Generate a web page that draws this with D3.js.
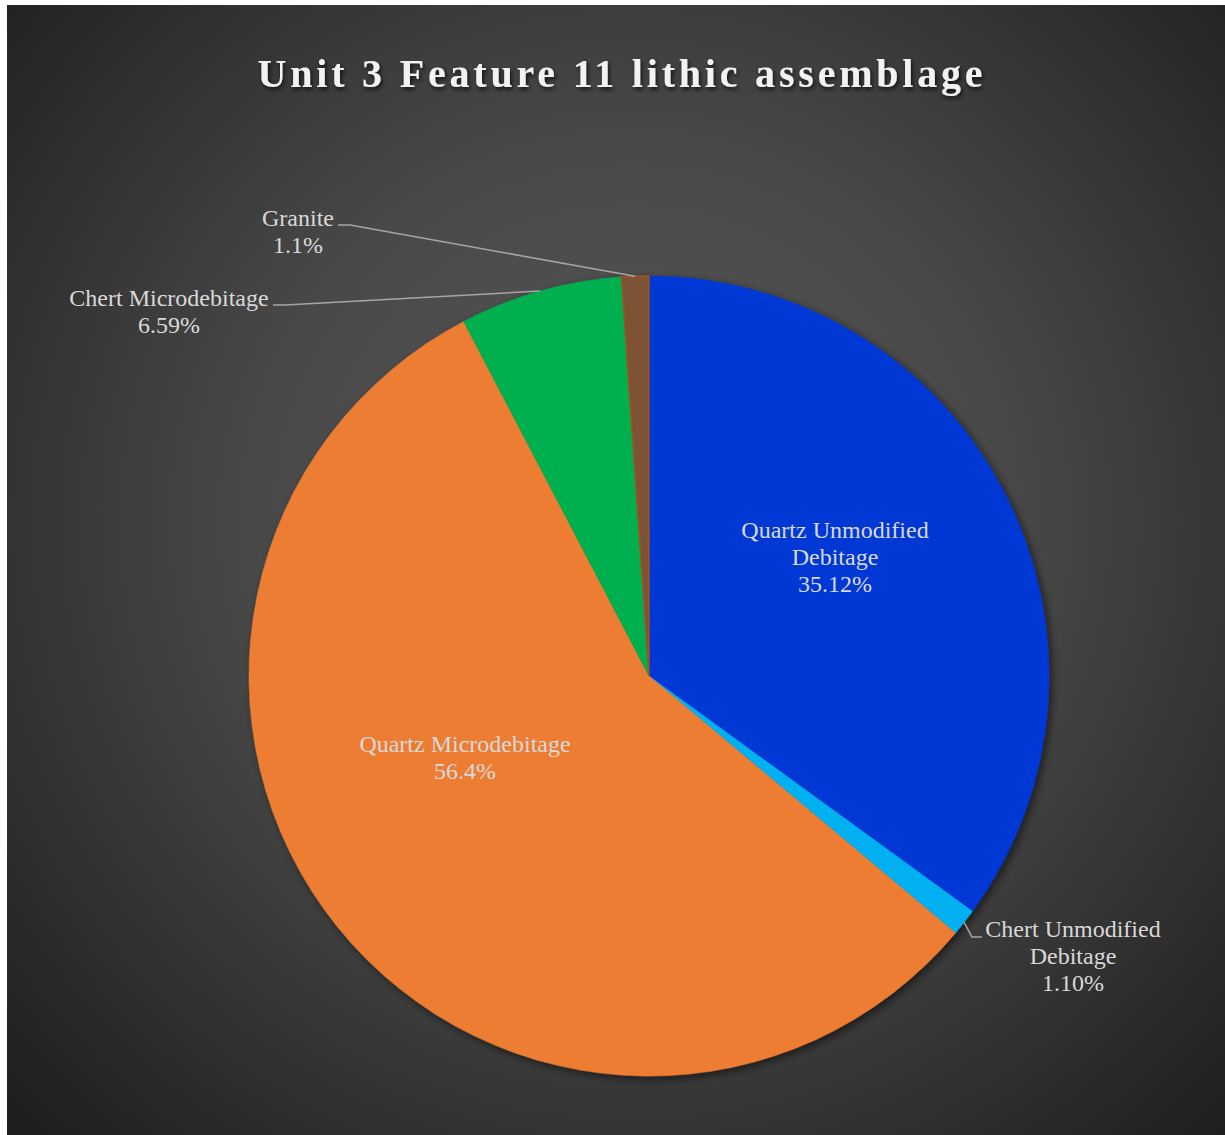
<!DOCTYPE html>
<html>
<head>
<meta charset="utf-8">
<script src="https://cdn.jsdelivr.net/npm/d3@7"></script>
<style>
  html, body { margin: 0; padding: 0; background: #ffffff; }
  svg { display: block; }
</style>
</head>
<body>
<div id="chart"></div>
<script>
// Lithic categories and their share of the assemblage (percent)
const categories = [
  "Quartz Unmodified Debitage",
  "Chert Unmodified Debitage",
  "Quartz Microdebitage",
  "Chert Microdebitage",
  "Granite"
];
const values = [35.12, 1.10, 56.4, 6.59, 1.1];
const decimals = [2, 2, 1, 2, 1];

// Label lines as shown on the chart (value line appended below)
const labelLines = [
  ["Quartz Unmodified", "Debitage"],
  ["Chert Unmodified", "Debitage"],
  ["Quartz Microdebitage"],
  ["Chert Microdebitage"],
  ["Granite"]
];
const colors = ["#0039d6", "#00b0f0", "#ed7d31", "#00b050", "#7e5236"];
const strokes = [null, null, null, null, "#a0521e"];

const W = 1225, H = 1135;
const frame = { x: 7, y: 5 };
const cx = 649, cy = 676, R = 400;
const lineH = 27;
const serif = "'Liberation Serif', 'Times New Roman', Times, serif";

// Label placement: inside labels use an offset from centre; outside labels use
// a leader line from the slice edge through an elbow to the text block.
const labelLayout = [
  { inside: true, dx: 186, dy: -119 },
  { inside: false, elbow: [972, 937], end: [982, 937], tx: 1073, ty: 929 },
  { inside: true, dx: -184, dy: 81 },
  { inside: false, elbow: [285, 305], end: [273, 305], tx: 169, ty: 298 },
  { inside: false, elbow: [350, 225], end: [338, 225], tx: 298, ty: 218 }
];

const svg = d3.select("#chart").append("svg")
  .attr("width", W).attr("height", H);

const defs = svg.append("defs");
const bg = defs.append("radialGradient")
  .attr("id", "bg").attr("gradientUnits", "userSpaceOnUse")
  .attr("cx", 630).attr("cy", 520).attr("r", 860);
bg.append("stop").attr("offset", "0%").attr("stop-color", "#595959");
bg.append("stop").attr("offset", "45%").attr("stop-color", "#484848");
bg.append("stop").attr("offset", "100%").attr("stop-color", "#1e1e1e");

const shadow = defs.append("filter").attr("id", "pieShadow")
  .attr("x", "-10%").attr("y", "-10%").attr("width", "120%").attr("height", "120%");
shadow.append("feDropShadow").attr("dx", 3).attr("dy", 3).attr("stdDeviation", 4)
  .attr("flood-color", "#000").attr("flood-opacity", 0.55);

const tshadow = defs.append("filter").attr("id", "titleShadow")
  .attr("x", "-5%").attr("y", "-30%").attr("width", "110%").attr("height", "160%");
tshadow.append("feDropShadow").attr("dx", 1.5).attr("dy", 2.5).attr("stdDeviation", 2)
  .attr("flood-color", "#000").attr("flood-opacity", 0.75);

svg.append("rect")
  .attr("x", frame.x).attr("y", frame.y)
  .attr("width", W - frame.x).attr("height", H - frame.y)
  .attr("fill", "url(#bg)");

// Title
svg.append("text")
  .attr("x", 622).attr("y", 87)
  .attr("text-anchor", "middle")
  .attr("font-family", serif)
  .attr("font-weight", "bold")
  .attr("font-size", 40)
  .attr("letter-spacing", 3.8)
  .attr("fill", "#f2f2f2")
  .attr("filter", "url(#titleShadow)")
  .text("Unit 3 Feature 11 lithic assemblage");

// Pie
const data = categories.map((c, i) => ({ name: c, value: values[i], i }));
const pie = d3.pie().value(d => d.value).sort(null);
const arcs = pie(data);
const arc = d3.arc().innerRadius(0).outerRadius(R);

const g = svg.append("g").attr("transform", `translate(${cx},${cy})`);
g.append("g").attr("filter", "url(#pieShadow)")
  .selectAll("path").data(arcs).join("path")
  .attr("d", arc)
  .attr("fill", d => colors[d.data.i])
  .attr("stroke", d => strokes[d.data.i] || colors[d.data.i])
  .attr("stroke-width", d => strokes[d.data.i] ? 1.5 : 0.5);

// Leader lines for outside labels
arcs.forEach(a => {
  const L = labelLayout[a.data.i];
  if (L.inside) return;
  const mid = (a.startAngle + a.endAngle) / 2;
  const sx = cx + R * Math.sin(mid), sy = cy - R * Math.cos(mid);
  svg.append("polyline")
    .attr("points", [[sx, sy], L.elbow, L.end].map(p => p.join(",")).join(" "))
    .attr("fill", "none")
    .attr("stroke", "#a6a6a6")
    .attr("stroke-width", 1.5);
});

// Data labels
arcs.forEach(a => {
  const i = a.data.i;
  const L = labelLayout[i];
  const lines = labelLines[i].concat([values[i].toFixed(decimals[i]) + "%"]);
  let x, y0;
  if (L.inside) {
    x = cx + L.dx;
    y0 = cy + L.dy - (lines.length - 1) * lineH / 2;
  } else {
    x = L.tx; y0 = L.ty;
  }
  const t = svg.append("text")
    .attr("text-anchor", "middle")
    .attr("font-family", serif)
    .attr("font-size", 24)
    .attr("fill", "#d9d9d9");
  lines.forEach((ln, k) => {
    t.append("tspan").attr("x", x).attr("y", y0 + k * lineH)
      .attr("dominant-baseline", "central").text(ln);
  });
});
</script>
</body>
</html>
